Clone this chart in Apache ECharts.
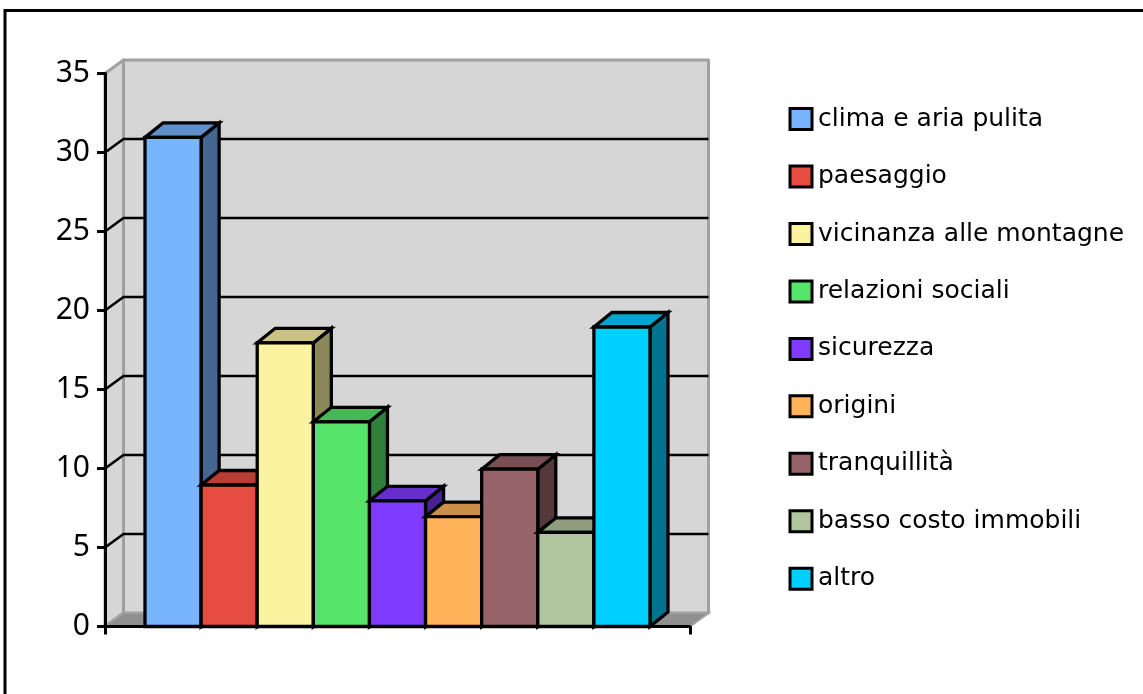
<!DOCTYPE html>
<html>
<head>
<meta charset="utf-8">
<style>html,body{margin:0;padding:0;background:#fff}#c{width:1143px;height:694px}</style>
<script src="https://cdn.jsdelivr.net/npm/echarts@6/dist/echarts.min.js"></script>
</head>
<body>
<div id="c"></div>
<script>
const categories = ['clima e aria pulita','paesaggio','vicinanza alle montagne','relazioni sociali','sicurezza','origini','tranquillità','basso costo immobili','altro'];
const values = [31, 9, 18, 13, 8, 7, 10, 6, 19];
const colors = ['#78b4ff','#e64c40','#fbf3a0','#56e56a','#7f3bff','#ffb35a','#966468','#b0c49e','#00d0ff'];
const gridValues = [5, 10, 15, 20, 25, 30];
const yMax = 35, yStep = 5;
const DX = 18.5, DY = 13.5, BAR_SHARE = 505 / 585 / 9;

function shade(hex, f) {
  const n = parseInt(hex.slice(1), 16);
  const c = [n >> 16 & 255, n >> 8 & 255, n & 255].map(v => Math.round(v * f));
  return 'rgb(' + c.join(',') + ')';
}

const chart = echarts.init(document.getElementById('c'), null, {renderer: 'canvas'});

function renderWalls(params, api) {
  const p0 = api.coord([0, 0]), pT = api.coord([0, yMax]);
  const band = api.size([1, 0])[0];
  const xL = p0[0] - band / 2, xR = p0[0] + band / 2, y0 = p0[1], yT = pT[1];
  const wall = {fill: '#d6d6d6', stroke: '#a0a0a0', lineWidth: 3, lineJoin: 'round'};
  return {type: 'group', children: [
    {type: 'polygon', shape: {points: [[xL + DX, yT - DY], [xR + DX, yT - DY], [xR + DX, y0 - DY], [xL + DX, y0 - DY]]}, style: wall},
    {type: 'polygon', shape: {points: [[xL, yT], [xL + DX, yT - DY], [xL + DX, y0 - DY], [xL, y0]]}, style: wall},
    {type: 'polygon', shape: {points: [[xL, y0], [xL + DX, y0 - DY], [xR + DX, y0 - DY], [xR, y0]]}, style: {fill: '#909090', stroke: '#a0a0a0', lineWidth: 2}}
  ]};
}

function renderGrid(params, api) {
  const p = api.coord([0, api.value(1)]);
  const band = api.size([1, 0])[0];
  const xL = p[0] - band / 2, xR = p[0] + band / 2, y = p[1];
  return {type: 'polyline', shape: {points: [[xL, y], [xL + DX, y - DY], [xR + DX, y - DY]]},
    style: {fill: null, stroke: '#000', lineWidth: 2.6}};
}

function renderBar(params, api) {
  const i = params.seriesIndex - 2;
  const band = api.size([1, 0])[0];
  const w = band * BAR_SHARE;
  const c = api.coord([0, api.value(1)]), b = api.coord([0, 0]);
  const x0 = c[0] + (i - categories.length / 2) * w, x1 = x0 + w, yT = c[1] + 0.7, yB = b[1];
  const col = colors[i];
  const line = {stroke: '#000', lineWidth: 3.3, lineJoin: 'miter'};
  const dx = 18, dy = 14.5;
  return {type: 'group', children: [
    {type: 'polygon', shape: {points: [[x1, yT], [x1 + dx, yT - dy], [x1 + dx, yB - dy], [x1, yB]]}, style: Object.assign({fill: shade(col, 0.56)}, line)},
    {type: 'polygon', shape: {points: [[x0, yT], [x0 + dx, yT - dy], [x1 + dx, yT - dy], [x1, yT]]}, style: Object.assign({fill: shade(col, 0.8)}, line)},
    {type: 'rect', shape: {x: x0, y: yT, width: w, height: yB - yT}, style: Object.assign({fill: col}, line)}
  ]};
}

const series = [
  {type: 'custom', name: 'pareti', silent: true, renderItem: renderWalls, data: [[0, yMax]], encode: {x: 0, y: 1}, z: 1},
  {type: 'custom', name: 'griglia', silent: true, renderItem: renderGrid, data: gridValues.map(v => [0, v]), encode: {x: 0, y: 1}, z: 1}
].concat(categories.map((name, i) => ({
  type: 'custom', name, renderItem: renderBar, data: [[0, values[i]]], encode: {x: 0, y: 1}, z: 2,
  itemStyle: {color: colors[i]}
})));

chart.setOption({
  animation: false,
  backgroundColor: '#fff',
  textStyle: {fontFamily: '"DejaVu Sans"'},
  grid: {left: 105, right: 453, top: 73.5, bottom: 67.5},
  xAxis: {type: 'category', data: [''], z: 5,
    axisLine: {lineStyle: {color: '#000', width: 3}},
    axisTick: {show: true, length: 8, lineStyle: {color: '#000', width: 3}},
    axisLabel: {show: false}, splitLine: {show: false}},
  yAxis: {type: 'value', min: 0, max: yMax, interval: yStep, z: 5,
    axisLine: {show: true, lineStyle: {color: '#000', width: 3}},
    axisTick: {show: true, length: 8, lineStyle: {color: '#000', width: 3}},
    axisLabel: {color: '#000', fontSize: 30, margin: 15, fontFamily: '"Noto Sans"'},
    splitLine: {show: false}},
  legend: {
    data: categories, orient: 'vertical', left: 783.5, top: 101.6,
    itemWidth: 22, itemHeight: 21, itemGap: 32.45, icon: 'rect',
    selectedMode: false,
    itemStyle: {borderColor: '#000', borderWidth: 3},
    textStyle: {color: '#000', fontSize: 25, fontFamily: '"DejaVu Sans"', padding: [0, 0, 2, 1], lineHeight: 21}
  },
  graphic: [{type: 'rect', silent: true, z: 0,
    shape: {x: 5, y: 10.5, width: 1160, height: 700},
    style: {fill: null, stroke: '#000', lineWidth: 3}}],
  series
});
</script>
</body>
</html>
